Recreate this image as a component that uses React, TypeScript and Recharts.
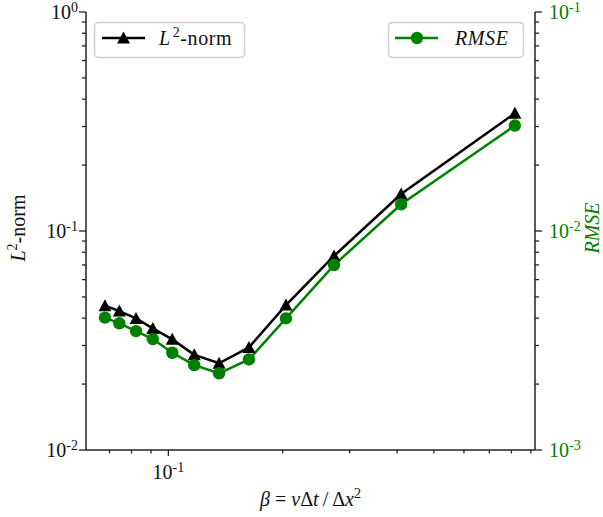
import React from "react";
import { LineChart, Line, XAxis, YAxis, Label } from "recharts";

// Stability parameter beta = nu*dt/dx^2 for each run
const betaValues = [0.0681, 0.0743, 0.0822, 0.091, 0.1024, 0.117, 0.136, 0.163, 0.204, 0.273, 0.41, 0.817];
// L2-norm of the error (left axis)
const l2Values = [0.0456, 0.0431, 0.0399, 0.0359, 0.032, 0.0272, 0.0249, 0.0294, 0.0459, 0.0769, 0.1476, 0.3446];
// Root-mean-square error (right axis)
const rmseValues = [0.00402, 0.00379, 0.00349, 0.00321, 0.00278, 0.00244, 0.00224, 0.00259, 0.00399, 0.00699, 0.01324, 0.0303];

const xTicks = [0.07, 0.08, 0.09, 0.1, 0.2, 0.3, 0.4, 0.5, 0.6, 0.7, 0.8, 0.9];
const leftTicks = [0.01, 0.02, 0.03, 0.04, 0.05, 0.06, 0.07, 0.08, 0.09, 0.1, 0.2, 0.3, 0.4, 0.5, 0.6, 0.7, 0.8, 0.9, 1];
const rightTicks = [0.001, 0.002, 0.003, 0.004, 0.005, 0.006, 0.007, 0.008, 0.009, 0.01, 0.02, 0.03, 0.04, 0.05, 0.06, 0.07, 0.08, 0.09, 0.1];

const data = betaValues.map((beta, i) => ({ beta, l2: l2Values[i], rmse: rmseValues[i] }));

const GREEN = "#008000";
const AXIS = "#222";
const FONT = "'Liberation Serif', 'DejaVu Serif', serif";
const FS = 20;
const SUP = 14;

const isMajor = (v: number) => Math.abs(Math.log10(v) - Math.round(Math.log10(v))) < 1e-6;
const expOf = (v: number) => Math.round(Math.log10(v));

const Pow10 = ({ x, y, exp, anchor, fill }: any) => (
  <text x={x} y={y} textAnchor={anchor} fontFamily={FONT} fontSize={FS} fill={fill}>
    10
    <tspan dy={-7} fontSize={SUP}>{String(exp)}</tspan>
  </text>
);

const XTick = (props: any) => {
  const { x, y, payload } = props;
  const major = isMajor(payload.value);
  return (
    <g>
      <line x1={x} y1={y} x2={x} y2={y + (major ? 6 : 3.5)} stroke={AXIS} strokeWidth={1.3} />
      {major && <Pow10 x={x} y={y + 29} exp={expOf(payload.value)} anchor="middle" fill="#111" />}
    </g>
  );
};

const LeftTick = (props: any) => {
  const { x, y, payload } = props;
  const major = isMajor(payload.value);
  return (
    <g>
      <line x1={x} y1={y} x2={x - (major ? 7 : 4)} y2={y} stroke={AXIS} strokeWidth={1.3} />
      {major && <Pow10 x={x - 8} y={y + 7} exp={expOf(payload.value)} anchor="end" fill="#111" />}
    </g>
  );
};

const RightTick = (props: any) => {
  const { x, y, payload } = props;
  const major = isMajor(payload.value);
  return (
    <g>
      <line x1={x} y1={y} x2={x + (major ? 7 : 4)} y2={y} stroke={AXIS} strokeWidth={1.3} />
      {major && <Pow10 x={x + 14} y={y + 7} exp={expOf(payload.value)} anchor="start" fill={GREEN} />}
    </g>
  );
};

const TriangleDot = (props: any) => {
  const { cx, cy } = props;
  if (cx == null || cy == null) return null;
  return <polygon points={`${cx},${cy - 6.5} ${cx - 6.5},${cy + 5.5} ${cx + 6.5},${cy + 5.5}`} fill="#000" />;
};

const CircleDot = (props: any) => {
  const { cx, cy } = props;
  if (cx == null || cy == null) return null;
  return <circle cx={cx} cy={cy} r={6.2} fill={GREEN} />;
};

const XAxisTitle = (props: any) => {
  const { viewBox } = props;
  const cx = viewBox.x + viewBox.width / 2;
  return (
    <text x={cx} y={viewBox.y + 56} textAnchor="middle" fontFamily={FONT} fontSize={FS} fill="#111">
      <tspan fontStyle="italic">β</tspan>
      <tspan>{" = "}</tspan>
      <tspan fontStyle="italic">ν</tspan>
      <tspan>Δ</tspan>
      <tspan fontStyle="italic">t</tspan>
      <tspan>{"\u2009/\u2009Δ"}</tspan>
      <tspan fontStyle="italic">x</tspan>
      <tspan dy={-8} fontSize={SUP}>2</tspan>
    </text>
  );
};

const LeftTitle = (props: any) => {
  const { viewBox } = props;
  const x = 25;
  const y = viewBox.y + viewBox.height / 2 - 3;
  return (
    <text x={x} y={y} transform={`rotate(-90 ${x} ${y})`} textAnchor="middle" fontFamily={FONT} fontSize={FS} fill="#111">
      <tspan fontStyle="italic">L</tspan>
      <tspan dy={-8} fontSize={SUP}>2</tspan>
      <tspan dy={8}>-norm</tspan>
    </text>
  );
};

const RightTitle = (props: any) => {
  const { viewBox } = props;
  const x = 599;
  const y = viewBox.y + viewBox.height / 2 - 3;
  return (
    <text x={x} y={y} transform={`rotate(-90 ${x} ${y})`} textAnchor="middle" fontFamily={FONT} fontSize={FS} fontStyle="italic" fill={GREEN}>
      RMSE
    </text>
  );
};

const LegendBoxes = () => (
  <svg width={603} height={517} style={{ position: "absolute", left: 0, top: 0, pointerEvents: "none" }}>
    <rect x={94.5} y={22.5} width={150} height={35} rx={4} fill="rgba(255,255,255,0.8)" stroke="#cfcfcf" strokeWidth={1.5} />
    <line x1={102} y1={38} x2={145} y2={38} stroke="#000" strokeWidth={2.5} />
    <polygon points="123.5,31.5 117,43.5 130,43.5" fill="#000" />
    <text x={159} y={45} fontFamily={FONT} fontSize={FS} fill="#111" letterSpacing={0.6}>
      <tspan fontStyle="italic">L</tspan>
      <tspan dx={2} dy={-8} fontSize={SUP}>2</tspan>
      <tspan dy={8}>-norm</tspan>
    </text>
    <rect x={388.5} y={22.5} width={135} height={35} rx={4} fill="rgba(255,255,255,0.8)" stroke="#cfcfcf" strokeWidth={1.5} />
    <line x1={395} y1={38} x2={438} y2={38} stroke={GREEN} strokeWidth={2.5} />
    <circle cx={417} cy={38} r={6.2} fill={GREEN} />
    <text x={455} y={45} fontFamily={FONT} fontSize={FS} fontStyle="italic" fill="#111" letterSpacing={0.6}>
      RMSE
    </text>
  </svg>
);

export default function App() {
  return (
    <div style={{ position: "absolute", left: 0, top: 0, width: 603, height: 517, background: "#fff" }}>
      <LineChart width={603} height={517} data={data} margin={{ top: 12, right: 0, bottom: 0, left: 0 }}>
        <XAxis
          dataKey="beta"
          type="number"
          scale="log"
          domain={[0.0607, 0.923]}
          allowDataOverflow
          ticks={xTicks}
          interval={0}
          tickSize={0}
          tickMargin={0}
          tickLine={false}
          tick={<XTick />}
          height={67}
          axisLine={{ stroke: AXIS, strokeWidth: 1.5 }}
        >
          <Label content={<XAxisTitle />} />
        </XAxis>
        <XAxis
          xAxisId="top"
          orientation="top"
          dataKey="beta"
          type="number"
          scale="log"
          domain={[0.0607, 0.923]}
          allowDataOverflow
          tick={false}
          tickLine={false}
          height={0}
          axisLine={{ stroke: AXIS, strokeWidth: 1.5 }}
        />
        <YAxis
          yAxisId="left"
          orientation="left"
          type="number"
          scale="log"
          domain={[0.01, 1]}
          allowDataOverflow
          ticks={leftTicks}
          interval={0}
          tickSize={0}
          tickMargin={0}
          tickLine={false}
          tick={<LeftTick />}
          width={86}
          axisLine={{ stroke: AXIS, strokeWidth: 1.5 }}
        >
          <Label content={<LeftTitle />} />
        </YAxis>
        <YAxis
          yAxisId="right"
          orientation="right"
          type="number"
          scale="log"
          domain={[0.001, 0.1]}
          allowDataOverflow
          ticks={rightTicks}
          interval={0}
          tickSize={0}
          tickMargin={0}
          tickLine={false}
          tick={<RightTick />}
          width={68}
          axisLine={{ stroke: AXIS, strokeWidth: 1.5 }}
        >
          <Label content={<RightTitle />} />
        </YAxis>
        <Line
          yAxisId="left"
          dataKey="l2"
          stroke="#000"
          strokeWidth={2.5}
          dot={<TriangleDot />}
          activeDot={false}
          isAnimationActive={false}
        />
        <Line
          yAxisId="right"
          dataKey="rmse"
          stroke={GREEN}
          strokeWidth={2.5}
          dot={<CircleDot />}
          activeDot={false}
          isAnimationActive={false}
        />
      </LineChart>
      <LegendBoxes />
    </div>
  );
}
